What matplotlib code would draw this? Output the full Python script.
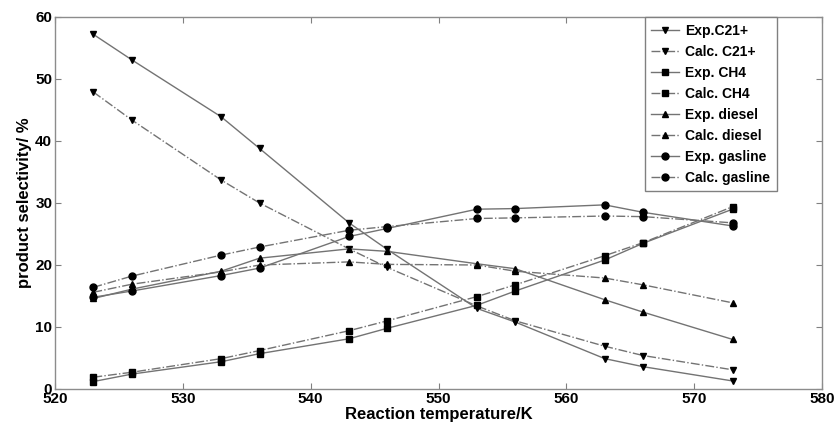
import matplotlib.pyplot as plt
from matplotlib import font_manager

temps = [523, 526, 533, 536, 543, 546, 553, 556, 563, 566, 573]

exp_c21 = [57.2, 53.1, 43.9, 38.8, 26.8, 22.5, 13.0, 10.8, 4.9, 3.6, 1.3]
calc_c21 = [47.9, 43.4, 33.7, 30.0, 22.6, 19.6, 13.4, 11.0, 6.9, 5.4, 3.1]
exp_ch4 = [1.2, 2.4, 4.4, 5.7, 8.1, 9.8, 13.5, 15.8, 20.8, 23.5, 29.0]
calc_ch4 = [1.9, 2.7, 4.9, 6.2, 9.4, 11.0, 14.9, 16.8, 21.5, 23.6, 29.4]
exp_diesel = [14.6, 16.1, 19.0, 21.1, 22.6, 22.2, 20.2, 19.4, 14.4, 12.4, 8.0]
calc_diesel = [15.6, 16.9, 18.9, 20.0, 20.5, 20.1, 20.0, 19.0, 17.9, 16.8, 13.9]
exp_gas = [14.8, 15.8, 18.3, 19.5, 24.6, 25.9, 29.0, 29.1, 29.7, 28.5, 26.3]
calc_gas = [16.4, 18.2, 21.6, 22.9, 25.6, 26.2, 27.5, 27.6, 27.9, 27.8, 26.8]

labels = ['Exp.C21+', 'Calc. C21+', 'Exp. CH4', 'Calc. CH4',
          'Exp. diesel', 'Calc. diesel', 'Exp. gasline', 'Calc. gasline']

names = [f.name for f in font_manager.fontManager.ttflist]
narrow = 'Liberation Sans Narrow' if 'Liberation Sans Narrow' in names else 'Liberation Sans'
plt.rcParams['font.family'] = [narrow, 'DejaVu Sans']

fig = plt.figure(figsize=(8.37, 4.32), dpi=100)
ax = fig.add_axes([55 / 837, 1 - 389 / 432, 767 / 837, 372 / 432])

series = [exp_c21, calc_c21, exp_ch4, calc_ch4, exp_diesel, calc_diesel, exp_gas, calc_gas]
markers = ['v', 'v', 's', 's', '^', '^', 'o', 'o']
for i, (ys, m, lab) in enumerate(zip(series, markers, labels)):
    ls = '-' if i % 2 == 0 else '-.'
    ax.plot(temps, ys, linestyle=ls, color='0.45', lw=1.0, marker=m,
            markersize=5, markerfacecolor='black', markeredgecolor='black',
            label=lab)

ax.set_xlim(520, 580)
ax.set_ylim(0, 60)
ax.set_xticks(range(520, 581, 10))
ax.set_yticks(range(0, 61, 10))
ax.tick_params(direction='in', top=True, right=True, length=4, color='0.5',
               labelsize=11, pad=2)
for lab in ax.get_xticklabels() + ax.get_yticklabels():
    lab.set_fontweight('bold')
for sp in ax.spines.values():
    sp.set_color('0.55')
    sp.set_linewidth(1.0)

ax.set_xlabel('Reaction temperature/K', fontsize=12, fontweight='bold',
              family=['Liberation Sans', 'DejaVu Sans'], labelpad=1)
ax.set_ylabel('product selectivity/ %', fontsize=12, fontweight='bold',
              family=['Liberation Sans', 'DejaVu Sans'], labelpad=2)

leg = ax.legend(loc='upper right', bbox_to_anchor=(0.941, 1.0), borderaxespad=0,
                fancybox=False, framealpha=1, edgecolor='0.5', handlelength=2.0,
                handletextpad=0.4, labelspacing=0.5, borderpad=0.5,
                prop={'family': ['Liberation Sans', 'DejaVu Sans'], 'weight': 'bold', 'size': 10})

fig.savefig('out.png', dpi=100)
